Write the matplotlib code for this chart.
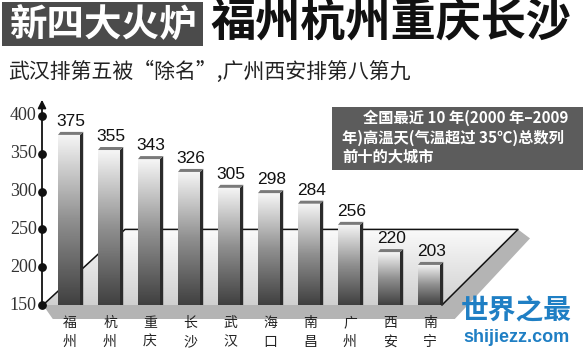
import matplotlib
matplotlib.use('Agg')
import matplotlib.pyplot as plt
import numpy as np
from matplotlib.patches import Rectangle, Polygon
from matplotlib.colors import LinearSegmentedColormap

cities = ['福州', '杭州', '重庆', '长沙', '武汉', '海口', '南昌', '广州', '西安', '南宁']
days = [375, 355, 343, 326, 305, 298, 284, 256, 220, 203]
yticks = [150, 200, 250, 300, 350, 400]

title_a = '新四大火炉'
title_b = '福州杭州重庆长沙'
subtitle = '武汉排第五被“除名”,广州西安排第八第九'
note = ['      全国最近 10 年(2000 年–2009', '年)高温天(气温超过 35℃)总数列', '前十的大城市']

CJK = ['Noto Sans CJK SC', 'DejaVu Sans']
W, H = 583, 351
PXX = 40.0     # pixels per category
PXY = 0.756    # pixels per day
BASE = 150

fig = plt.figure(figsize=(W / 100, H / 100), dpi=100)
ax = fig.add_axes([0, 0, 1, 1])
ax.set_xlim(-70 / PXX, (W - 70) / PXX)
ax.set_ylim(BASE - (H - 305) / PXY, BASE + 305 / PXY)
ax.axis('off')


def dy(px):
    return px / PXY


# floor plane with shadow
shadow = Polygon([(-0.675, BASE), (9.3, BASE), (11.2, 250), (11.5, 250 - dy(9)),
                  (9.62, BASE - dy(14)), (-0.43, BASE - dy(14))],
                 closed=True, fc='#b4b4b4', ec='none', zorder=1)
ax.add_patch(shadow)
plane = Polygon([(-0.675, BASE), (1.375, 250), (11.2, 250), (9.3, BASE)],
                closed=True, fc='none', ec='none', zorder=2)
ax.add_patch(plane)
pg = np.linspace(0, 1, 100).reshape(-1, 1)
pcmap = LinearSegmentedColormap.from_list('p', ['#d0d0d0', '#fafafa'])
im = ax.imshow(pg, extent=[-0.7, 11.3, BASE, 250], origin='lower', cmap=pcmap,
               aspect='auto', zorder=2)
im.set_clip_path(plane)
ax.plot([-0.675, 1.375, 11.2, 9.3], [BASE, 250, 250, BASE], color='#111111', lw=1.1, zorder=3)

# bars
bcmap = LinearSegmentedColormap.from_list('b', ['#404040', '#909090', '#f6f6f6'])
g = np.linspace(0, 1, 200).reshape(-1, 1)
for i, v in enumerate(days):
    rect = Rectangle((i - 0.3, BASE), 0.55, v - BASE, fc='none', ec='none', zorder=4)
    ax.add_patch(rect)
    bim = ax.imshow(g, extent=[i - 0.3, i + 0.25, BASE, v], origin='lower', cmap=bcmap,
                    aspect='auto', zorder=4)
    bim.set_clip_path(rect)
    ax.add_patch(Polygon([(i + 0.25, BASE), (i + 0.25, v), (i + 0.33, v + dy(3)),
                          (i + 0.33, BASE)], fc='#2b2b2b', ec='none', zorder=5))
    ax.add_patch(Polygon([(i - 0.3, v), (i - 0.24, v + dy(3)), (i + 0.33, v + dy(3)),
                          (i + 0.25, v)], fc='#7a7a7a', ec='none', zorder=5))
    ax.text(i + 0.03, v + dy(6), str(v), ha='center', va='bottom', fontsize=12.5,
            family='Liberation Sans', color='#111111', zorder=6)
    ax.text(i, BASE - dy(18), cities[i][0], ha='center', va='center', fontsize=10,
            family=CJK, color='#222222', zorder=6)
    ax.text(i, BASE - dy(37), cities[i][1], ha='center', va='center', fontsize=10,
            family=CJK, color='#222222', zorder=6)

# y axis with arrow and dots
ax.annotate('', xy=(-0.7, BASE + dy(208)), xytext=(-0.7, BASE),
            arrowprops=dict(arrowstyle='-|>', color='#111111', lw=1.3, mutation_scale=12),
            zorder=7)
ax.scatter([-0.7] * len(yticks), yticks, s=28, color='#111111', zorder=8)
for t in yticks:
    ax.text(-0.83, t, str(t), ha='right', va='center', fontsize=13,
            family='Liberation Serif', color='#333333')

# title band
fig.add_artist(Rectangle((2 / W, 1 - 46 / H), 201 / W, 44 / H, transform=fig.transFigure,
                         fc='#4b4b4b', ec='none'))
fig.text(103 / W, 1 - 24 / H, title_a, ha='center', va='center', fontsize=27,
         weight='heavy', family=CJK, color='white')
fig.text(210 / W, 1 - 24 / H, title_b, ha='left', va='center', fontsize=32.5,
         weight='bold', family=CJK, color='#111111')
fig.text(8 / W, 1 - 72 / H, subtitle, ha='left', va='center', fontsize=15,
         family=CJK, color='#222222')

# note box
fig.add_artist(Rectangle((332 / W, 1 - 170 / H), (W - 332) / W, 63 / H,
                         transform=fig.transFigure, fc='#5c5c5c', ec='none'))
for k, line in enumerate(note):
    fig.text(342 / W, 1 - (118 + 19.5 * k) / H, line, ha='left', va='center', fontsize=11,
             weight='bold', family=CJK, color='white')

# watermark
fig.text(516 / W, 1 - 311 / H, '世界之最', ha='center', va='center', fontsize=20,
         weight='bold', family=CJK, color='#1f7fc4')
fig.text(516 / W, 1 - 338 / H, 'shijiezz.com', ha='center', va='center', fontsize=13,
         weight='bold', family='Liberation Sans', color='#1f7fc4')

fig.savefig('out.png', dpi=100)
